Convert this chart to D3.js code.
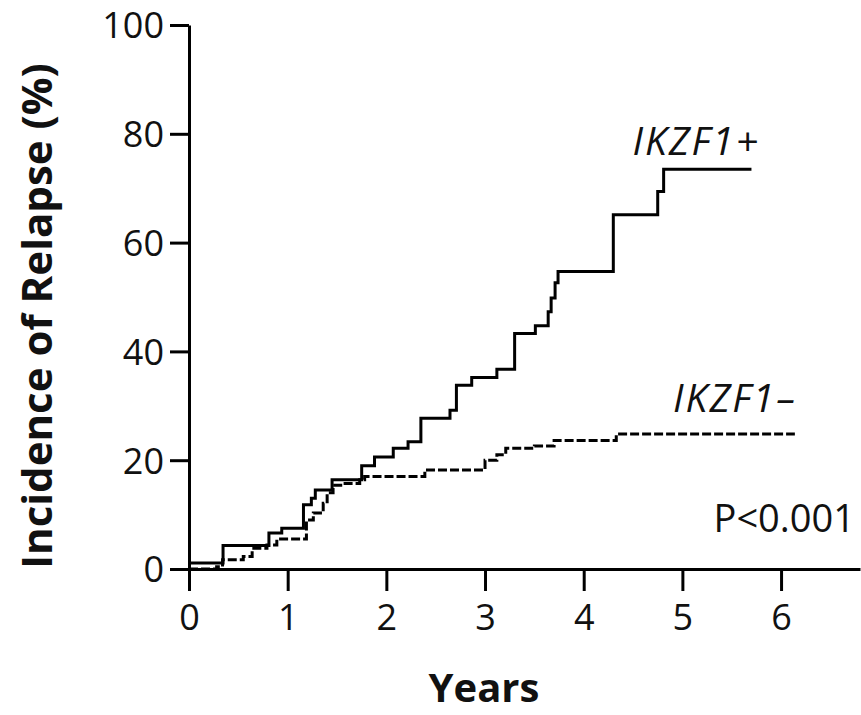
<!DOCTYPE html>
<html>
<head>
<meta charset="utf-8">
<script src="https://cdn.jsdelivr.net/npm/d3@7"></script>
<style>
  html, body { margin: 0; padding: 0; background: #fff; }
  svg { display: block; }
  text { font-family: "Open Sans", "Noto Sans", sans-serif; fill: #111; }
</style>
</head>
<body>
<svg id="chart" width="861" height="715"></svg>
<script>
// Cumulative incidence of relapse by IKZF1 status (years, percent)
const posTimes  = [0, 0.345, 0.81, 0.94, 1.16, 1.24, 1.28, 1.45, 1.75, 1.88, 2.07, 2.22, 2.35, 2.645, 2.71, 2.865, 3.12, 3.30, 3.51, 3.64, 3.67, 3.71, 3.74, 4.30, 4.75, 4.81, 5.70];
const posValues = [1.1, 4.3, 6.6, 7.5, 11.8, 13.0, 14.5, 16.4, 19.0, 20.6, 22.2, 23.4, 27.7, 29.2, 33.8, 35.2, 36.7, 43.3, 44.7, 47.3, 49.8, 52.6, 54.7, 65.1, 69.4, 73.5, 73.5];

const negTimes  = [0, 0.28, 0.34, 0.55, 0.64, 0.79, 0.89, 1.19, 1.26, 1.36, 1.40, 1.46, 1.56, 1.73, 1.78, 2.39, 3.00, 3.12, 3.21, 3.50, 3.70, 4.33, 6.14];
const negValues = [0, 0.4, 1.7, 2.3, 3.8, 4.4, 5.5, 9.0, 10.3, 12.1, 14.0, 15.4, 15.7, 16.4, 17.0, 18.2, 20.0, 21.0, 22.2, 22.6, 23.6, 24.8, 24.8];

const xTicks = [0, 1, 2, 3, 4, 5, 6];
const yTicks = [0, 20, 40, 60, 80, 100];

const svg = d3.select("#chart");

const x = d3.scaleLinear().domain([0, 6.8]).range([189, 860]);
const y = d3.scaleLinear().domain([0, 100]).range([569, 25]);

// Axes
const yAxis = d3.axisLeft(y).tickValues(yTicks).tickFormat(d3.format("d"))
  .tickSize(19).tickSizeOuter(0).tickPadding(6);
const xAxis = d3.axisBottom(x).tickValues(xTicks).tickFormat(d3.format("d"))
  .tickSize(22).tickSizeOuter(0).tickPadding(12);

const gx = svg.append("g").attr("transform", `translate(0,${y(0)})`).call(xAxis);
const gy = svg.append("g").attr("transform", `translate(${x(0)},0)`).call(yAxis);

[gx, gy].forEach(g => {
  g.select(".domain").attr("stroke", "#000").attr("stroke-width", 3);
  g.selectAll(".tick line").attr("stroke", "#000").attr("stroke-width", 3);
  g.selectAll(".tick text")
    .attr("fill", "#111")
    .style("font-family", '"Open Sans", sans-serif')
    .style("font-size", "36px");
});
gy.selectAll(".tick text").attr("dy", "0.36em");
gx.selectAll(".tick text").attr("dy", "0.75em");

// Step curves
const line = d3.line()
  .x(d => x(d[0]))
  .y(d => y(d[1]))
  .curve(d3.curveStepAfter);

const negData = d3.zip(negTimes, negValues);
const posData = d3.zip(posTimes, posValues);

svg.append("path")
  .datum(negData)
  .attr("d", line)
  .attr("fill", "none")
  .attr("stroke", "#000")
  .attr("stroke-width", 3)
  .attr("stroke-dasharray", "9,3");

svg.append("path")
  .datum(posData)
  .attr("d", line)
  .attr("fill", "none")
  .attr("stroke", "#000")
  .attr("stroke-width", 3);

// Axis titles
svg.append("text")
  .attr("transform", `translate(52,${(62 + 570) / 2}) rotate(-90)`)
  .attr("text-anchor", "middle")
  .style("font-weight", "bold")
  .style("font-size", "42px")
  .text("Incidence of Relapse (%)");

svg.append("text")
  .attr("x", 484)
  .attr("y", 702)
  .attr("text-anchor", "middle")
  .style("font-weight", "bold")
  .style("font-size", "40px")
  .text("Years");

// Curve labels and test result
svg.append("text")
  .attr("x", 760).attr("y", 155)
  .attr("text-anchor", "end")
  .style("font-style", "italic")
  .style("font-size", "39px")
  .style("letter-spacing", "2px")
  .text("IKZF1+");

svg.append("text")
  .attr("x", 797).attr("y", 412)
  .attr("text-anchor", "end")
  .style("font-style", "italic")
  .style("font-size", "39px")
  .style("letter-spacing", "2px")
  .text("IKZF1–");

svg.append("text")
  .attr("x", 855).attr("y", 532)
  .attr("text-anchor", "end")
  .style("font-size", "38px")
  .text("P<0.001");
</script>
</body>
</html>
